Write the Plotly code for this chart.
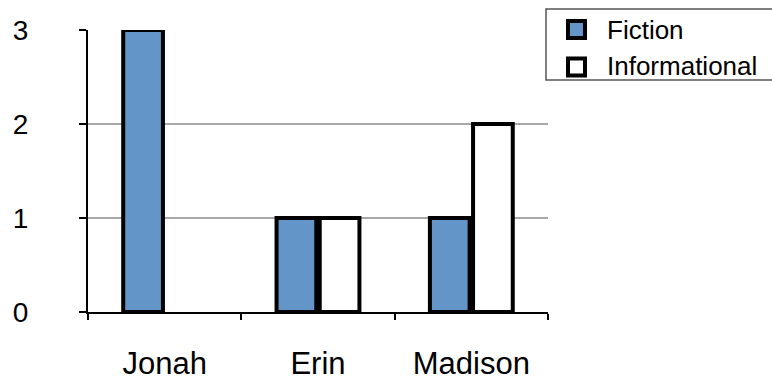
import plotly.graph_objects as go

# Books read by each student, split by genre
students = ["Jonah", "Erin", "Madison"]
fiction = [3, 1, 1]
informational = [0, 1, 2]
y_ticks = [0, 1, 2, 3]
series_names = ["Fiction", "Informational"]

FICTION_BLUE = "#6395C9"
FONT = "Liberation Sans, Arial, Helvetica, sans-serif"

W, H = 772, 380
M_L, M_R, M_T, M_B = 88, 224, 30, 68
PLOT_W = W - M_L - M_R
PLOT_H = H - M_T - M_B


def px(x):
    """Pixel column -> paper x."""
    return (x - M_L) / PLOT_W


def py(y):
    """Pixel row -> paper y."""
    return (H - M_B - y) / PLOT_H


def outline_widths(values):
    # empty bars get no outline so nothing is drawn on the baseline
    return [4 if v else 0 for v in values]


fig = go.Figure()
fig.add_trace(go.Bar(
    x=students, y=fiction, name=series_names[0],
    marker=dict(color=FICTION_BLUE,
                line=dict(color="black", width=outline_widths(fiction))),
))
fig.add_trace(go.Bar(
    x=students, y=informational, name=series_names[1],
    marker=dict(color="white",
                line=dict(color="black", width=outline_widths(informational))),
))

# Legend box with outlined swatches
shapes = [dict(
    type="rect", xref="paper", yref="paper",
    x0=px(546), x1=px(780), y0=py(80), y1=py(9),
    line=dict(color="#555555", width=1.5), fillcolor="white", layer="above",
)]
annotations = []
swatch_tops = [21, 58.5]
label_mids = [29.6, 66.3]
for name, color, top, mid in zip(series_names, [FICTION_BLUE, "white"],
                                 swatch_tops, label_mids):
    shapes.append(dict(
        type="rect", xref="paper", yref="paper",
        x0=px(568), x1=px(585), y0=py(top + 17), y1=py(top),
        line=dict(color="black", width=4), fillcolor=color, layer="above",
    ))
    annotations.append(dict(
        xref="paper", yref="paper", x=px(605), y=py(mid),
        xanchor="left", yanchor="middle", showarrow=False, text=name,
        font=dict(size=26, family=FONT, color="black"),
    ))

fig.update_layout(
    width=W, height=H,
    margin=dict(l=M_L, r=M_R, t=M_T, b=M_B, autoexpand=False),
    paper_bgcolor="white", plot_bgcolor="white",
    font=dict(family=FONT, color="black"),
    barmode="group", bargap=0.437, bargroupgap=0.08,
    showlegend=False,
    shapes=shapes, annotations=annotations,
    xaxis=dict(
        showline=True, linecolor="black", linewidth=2,
        ticks="outside", tickson="boundaries", ticklen=6, tickwidth=2,
        tickcolor="black", showgrid=False, zeroline=False,
        tickfont=dict(size=31, family=FONT, color="black"),
        ticklabelstandoff=23,
    ),
    yaxis=dict(
        range=[0, 3], tickvals=y_ticks,
        showline=True, linecolor="black", linewidth=2,
        ticks="outside", ticklen=7, tickwidth=2, tickcolor="black",
        showgrid=True, gridcolor="#A8A8A8", gridwidth=2, zeroline=False,
        tickfont=dict(size=28, family=FONT, color="black"),
        ticklabelstandoff=45,
    ),
)

fig.write_html("out.html")
